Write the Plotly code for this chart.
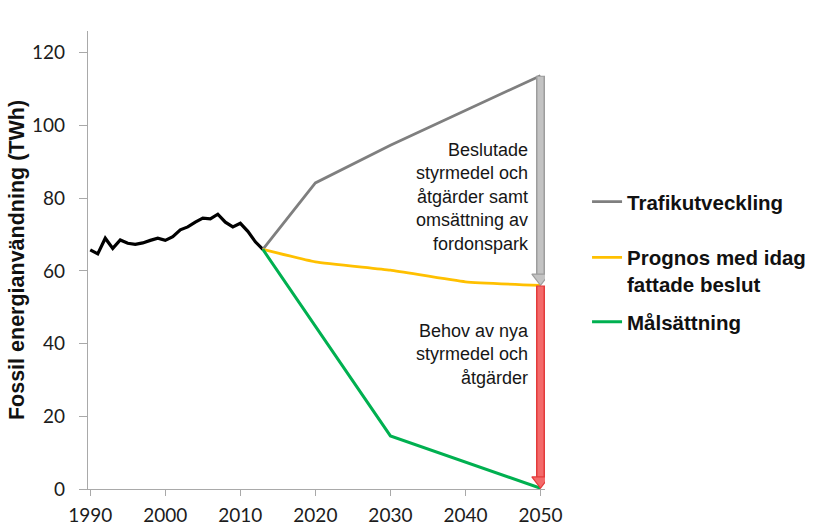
import plotly.graph_objects as go

# ---------------- data ----------------
hist_years = list(range(1990, 2014))
hist_values = [65.8, 64.7, 69.0, 66.2, 68.5, 67.6, 67.3, 67.7, 68.4, 69.0,
               68.4, 69.4, 71.3, 72.1, 73.4, 74.5, 74.3, 75.6, 73.4, 72.1,
               73.1, 70.9, 68.0, 65.9]

proj_years = [2013, 2020, 2030, 2040, 2050]
trafik_values = [65.9, 84.2, 94.6, 104.2, 113.7]
prognos_values = [65.9, 62.5, 60.2, 57.0, 56.0]

mal_years = [2013, 2030, 2050]
mal_values = [65.9, 14.6, 0.2]

series_names = ["Trafikutveckling", "Prognos med idag<br>fattade beslut", "Målsättning"]

x_ticks = [1990, 2000, 2010, 2020, 2030, 2040, 2050]
y_ticks = [0, 20, 40, 60, 80, 100, 120]

text_upper = "Beslutade<br>styrmedel och<br>åtgärder samt<br>omsättning av<br>fordonspark"
text_lower = "Behov av nya<br>styrmedel och<br>åtgärder"
y_title = "Fossil energianvändning (TWh)"

# ---------------- styles ----------------
C_GRAY = "#7f7f7f"
C_YELLOW = "#ffc000"
C_GREEN = "#00b050"
C_TEXT = "#161616"
AXIS_COL = "#a9a9a9"
HEAD_CENTER = 2.1   # arrow-head marker centre above its tip (data units)
SHAFT_END = 2.6

fig = go.Figure()

fig.add_trace(go.Scatter(x=hist_years, y=hist_values, mode="lines",
                         line=dict(color="#000000", width=3.2),
                         showlegend=False, hoverinfo="skip"))

fig.add_trace(go.Scatter(x=proj_years, y=trafik_values, mode="lines",
                         name=series_names[0], line=dict(color=C_GRAY, width=2.8),
                         legend="legend"))
fig.add_trace(go.Scatter(x=proj_years, y=prognos_values, mode="lines",
                         name=series_names[1], line=dict(color=C_YELLOW, width=2.8, shape="spline", smoothing=0.4),
                         legend="legend2"))
fig.add_trace(go.Scatter(x=mal_years, y=mal_values, mode="lines",
                         name=series_names[2], line=dict(color=C_GREEN, width=3),
                         legend="legend3"))


def add_arrow(x, y_from, y_to, fill, edge):
    fig.add_trace(go.Scatter(x=[x, x], y=[y_from, y_to + SHAFT_END], mode="lines",
                             line=dict(color=edge, width=9), showlegend=False, hoverinfo="skip"))
    fig.add_trace(go.Scatter(x=[x, x], y=[y_from - 0.3, y_to + SHAFT_END], mode="lines",
                             line=dict(color=fill, width=6), showlegend=False, hoverinfo="skip"))
    fig.add_trace(go.Scatter(x=[x], y=[y_to + HEAD_CENTER], mode="markers",
                             marker=dict(symbol="triangle-down", size=15, color=fill,
                                         line=dict(color=edge, width=1.2)),
                             showlegend=False, hoverinfo="skip"))


add_arrow(proj_years[-1], trafik_values[-1], prognos_values[-1], "#c3c3c3", "#9d9d9d")
add_arrow(proj_years[-1], prognos_values[-1], mal_values[-1], "#f46a6a", "#e33b3b")

ann_font = dict(family="Liberation Sans, Arial, sans-serif", size=18, color=C_TEXT)
fig.add_annotation(x=proj_years[-1], y=80.3, text=text_upper, showarrow=False,
                   xanchor="right", yanchor="middle", align="right", xshift=-10, font=ann_font)
fig.add_annotation(x=proj_years[-1], y=37.0, text=text_lower, showarrow=False,
                   xanchor="right", yanchor="middle", align="right", xshift=-10, font=ann_font)

leg_font = dict(family="Liberation Sans, Arial, sans-serif", size=20.5, color="#111111", weight="bold")
leg_common = dict(xanchor="left", yanchor="middle", font=leg_font, bgcolor="rgba(0,0,0,0)",
                  valign="top", borderwidth=0)

tick_font = dict(family="Lato, Open Sans, sans-serif", size=19, color="#1c1c1c")

fig.update_layout(
    width=814, height=527,
    margin=dict(l=88, r=269, t=31, b=38, autoexpand=False),
    paper_bgcolor="white", plot_bgcolor="white",
    legend=dict(x=1.092, y=0.627, **leg_common),
    legend2=dict(x=1.092, y=0.476, **leg_common),
    legend3=dict(x=1.092, y=0.365, **leg_common),
    xaxis=dict(range=[1989.7, 2050.6], tickvals=x_ticks, showgrid=False, zeroline=False,
               showline=True, linecolor=AXIS_COL, linewidth=1.2,
               ticks="outside", ticklen=6, tickcolor=AXIS_COL, tickfont=tick_font,
               ticklabelstandoff=3, automargin=False),
    yaxis=dict(range=[0, 126], tickvals=y_ticks, showgrid=False, zeroline=False,
               showline=True, linecolor=AXIS_COL, linewidth=1.2,
               ticks="outside", ticklen=8, tickcolor=AXIS_COL, tickfont=tick_font,
               ticklabelstandoff=10, automargin=False,
               title=dict(text=y_title, standoff=1,
                          font=dict(family="Liberation Sans, Arial, sans-serif", size=21.5,
                                    color="#111111", weight="bold"))),
)

fig.write_html("out.html")
